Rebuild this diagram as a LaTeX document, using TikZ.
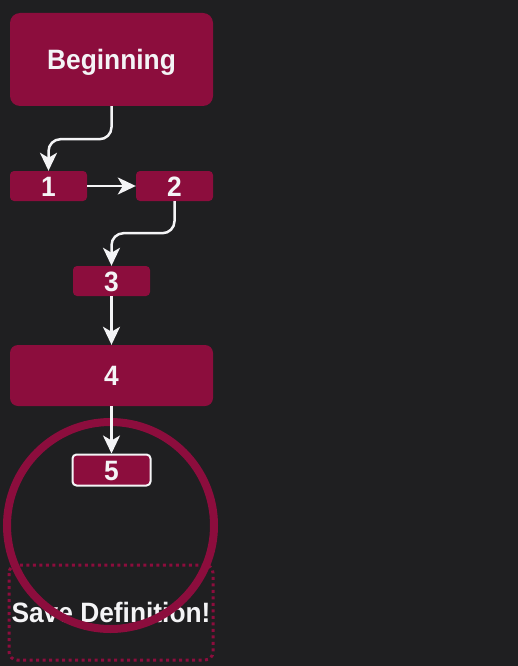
\documentclass[tikz,border=0pt]{standalone}
\usepackage{fontspec}
\setmainfont{Liberation Sans}[FakeStretch=0.94]
\usetikzlibrary{arrows.meta}
\definecolor{bgdark}{HTML}{1F1F21}
\definecolor{crimson}{HTML}{8C0D3D}
\definecolor{offwhite}{HTML}{F4F4F6}
\begin{document}
\begin{tikzpicture}[x=1pt,y=1pt]
\tikzstyle{every node}+=[inner sep=0pt, text=offwhite, text height=20pt, text depth=0pt, font=\bfseries\fontsize{28}{32}\selectfont]
\tikzstyle{step box}=[rectangle, fill=crimson, rounded corners=4pt, minimum width=77pt, minimum height=30pt]
\tikzstyle{wide box}=[step box, rounded corners=10pt, minimum width=203pt]
\tikzstyle{flow}=[draw=offwhite, line width=2.5pt, rounded corners=12pt, -{Stealth[length=18pt,width=17pt,inset=5pt]}]
\fill [bgdark] (0,0) rectangle (518,-666);
\useasboundingbox (0,0) rectangle (518,-666);
\node [wide box, minimum height=93pt] (begin) at (111.5,-59.5) {Beginning};
\node [step box] (one) at (48.5,-186) {1};
\node [step box] (two) at (174.5,-186) {2};
\node [step box] (three) at (111.5,-281) {3};
\node [wide box, rounded corners=8pt, minimum height=61pt] (four) at (111.5,-375.5) {4};
\node [step box, draw=offwhite, line width=2pt, minimum width=78pt, minimum height=31pt] (five) at (111.5,-470) {5};
\draw [crimson, line width=3pt, dash pattern=on 3pt off 3.5pt, rounded corners=8pt] (9,-565) rectangle (213,-660);
\node (save) at (111,-612) {Save Definition!};
\draw [crimson, line width=8pt] (110.5,-525.5) circle (103.5);
\draw [flow] (begin.south) -- ++(0,-33) -| (one.north);
\draw [flow] (one.east) -- (two.west);
\draw [flow] (two.south) -- ++(0,-32) -| (three.north);
\draw [flow] (three.south) -- (four.north);
\draw [flow] (four.south) -- (five.north);
\end{tikzpicture}
\end{document}
